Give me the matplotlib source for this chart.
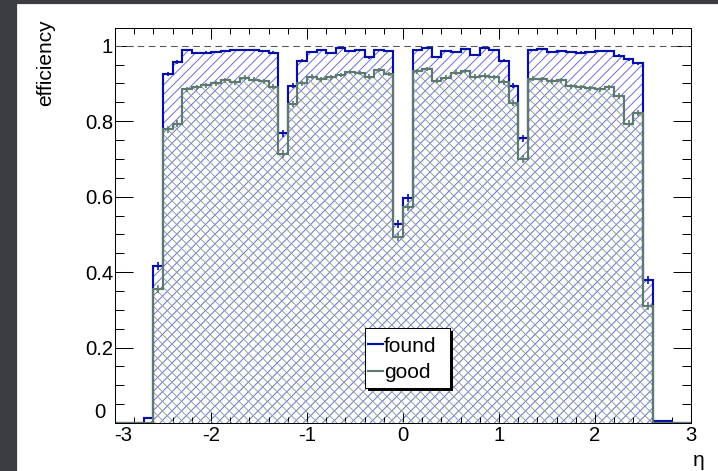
import matplotlib
matplotlib.use("Agg")
import numpy as np
import matplotlib.pyplot as plt
import matplotlib.transforms as mtrans
from matplotlib.patches import Rectangle
from matplotlib.lines import Line2D
from matplotlib.ticker import MultipleLocator, FuncFormatter

plt.rcParams["font.family"] = ["Liberation Sans", "DejaVu Sans"]
plt.rcParams["axes.unicode_minus"] = False
plt.rcParams["lines.scale_dashes"] = False
plt.rcParams["hatch.linewidth"] = 0.8

DPI = 86
W, H = 718, 471

# eta binning: 60 bins of width 0.1 between -3 and 3
eta_edges = np.linspace(-3.0, 3.0, 61)

# tracking efficiency per eta bin
found = [0.0, 0.0, 0.0, 0.012, 0.416, 0.925, 0.957, 0.988, 0.981, 0.982,
         0.984, 0.987, 0.989, 0.989, 0.988, 0.985, 0.982, 0.768, 0.894, 0.960,
         0.984, 0.990, 0.980, 0.995, 0.987, 0.990, 0.969, 0.988, 0.987, 0.527,
         0.596, 0.990, 0.994, 0.970, 0.986, 0.983, 0.991, 0.975, 0.995, 0.990,
         0.960, 0.894, 0.755, 0.988, 0.991, 0.983, 0.985, 0.983, 0.982, 0.983,
         0.985, 0.986, 0.974, 0.964, 0.953, 0.379, 0.006, 0.005, 0.0, 0.0]
good = [0.0, 0.0, 0.0, 0.0, 0.355, 0.778, 0.793, 0.884, 0.890, 0.895,
        0.901, 0.908, 0.903, 0.915, 0.910, 0.906, 0.891, 0.713, 0.845, 0.900,
        0.918, 0.911, 0.916, 0.922, 0.931, 0.928, 0.918, 0.936, 0.925, 0.493,
        0.573, 0.932, 0.939, 0.907, 0.915, 0.929, 0.934, 0.918, 0.921, 0.917,
        0.903, 0.848, 0.700, 0.913, 0.911, 0.906, 0.908, 0.892, 0.890, 0.887,
        0.884, 0.890, 0.866, 0.793, 0.821, 0.310, 0.0, 0.0, 0.0, 0.0]

# tracks per bin, used for the binomial uncertainty
n_tracks = 2000

x_ticks = [-3, -2, -1, 0, 1, 2, 3]
y_ticks = [0, 0.2, 0.4, 0.6, 0.8, 1.0]

found = np.array(found)
good = np.array(good)
centers = 0.5 * (eta_edges[:-1] + eta_edges[1:])

c_found = "#0510a8"
c_found_hatch = "#6a6ade"
c_good = "#5c7a6e"
c_good_hatch = "#8fa399"

fig = plt.figure(figsize=(W / DPI, H / DPI), dpi=DPI, facecolor="white")

def fx(px):
    return px / W

def fy(py):
    return 1 - py / H

# dark frame strips of the canvas
fig.patches.append(Rectangle((0, 0), fx(16), 1, transform=fig.transFigure,
                             color="#3b3d42", zorder=0))
fig.patches.append(Rectangle((0, fy(3)), 1, 3 / H, transform=fig.transFigure,
                             color="#3b3d42", zorder=0))

ax = fig.add_axes([fx(115), fy(423), 576 / W, 395 / H])
ax.set_xlim(-3, 3)
ax.set_ylim(0, 1.047)

# hatched fills
ax.stairs(found, eta_edges, baseline=0, fill=True, facecolor="none",
          edgecolor=c_found_hatch, linewidth=0, hatch="///", zorder=1)
ax.stairs(good, eta_edges, baseline=0, fill=True, facecolor="none",
          edgecolor=c_good_hatch, linewidth=0, hatch="\\\\\\", zorder=2)

# outlines
ax.stairs(found, eta_edges, baseline=0, fill=False, edgecolor=c_found,
          linewidth=1.8, zorder=4)
ax.stairs(good, eta_edges, baseline=0, fill=False, edgecolor=c_good,
          linewidth=1.8, zorder=5)

# binomial errors
for vals, col, z in ((found, c_found, 6), (good, c_good, 7)):
    m = vals > 0
    err = np.sqrt(vals[m] * (1 - vals[m]) / n_tracks)
    ax.errorbar(centers[m], vals[m], yerr=err, fmt="none", ecolor=col,
                elinewidth=1.4, capsize=0, zorder=z)

ax.axhline(1.0, color="#555555", linewidth=0.9, linestyle=(0, (5.5, 3.8)),
           zorder=3)

# axis styling
for s in ax.spines.values():
    s.set_linewidth(0.85)
    s.set_zorder(10)

ax.set_xticks(x_ticks)
ax.set_yticks(y_ticks)
ax.xaxis.set_minor_locator(MultipleLocator(0.2))
ax.yaxis.set_minor_locator(MultipleLocator(0.05))
fmt = FuncFormatter(lambda v, p: f"{v:g}")
ax.xaxis.set_major_formatter(fmt)
ax.yaxis.set_major_formatter(fmt)

ax.tick_params(axis="both", which="both", direction="in", top=True,
               right=True, width=0.85, labelsize=17, zorder=10)
ax.tick_params(axis="x", which="major", length=9.5, pad=2.5)
ax.tick_params(axis="x", which="minor", length=4.8)
ax.tick_params(axis="y", which="major", length=14.8, pad=1.5)
ax.tick_params(axis="y", which="minor", length=7.5)

# nudge the corner labels apart
fig.canvas.draw()
ylab0 = ax.get_yticklabels()[0]
ylab0.set_transform(ylab0.get_transform() +
                    mtrans.ScaledTranslation(-8 / DPI, 12 / DPI,
                                             fig.dpi_scale_trans))
xlab0 = ax.get_xticklabels()[0]
xlab0.set_transform(xlab0.get_transform() +
                    mtrans.ScaledTranslation(8 / DPI, 0, fig.dpi_scale_trans))

fig.text(fx(46), fy(19), "efficiency", rotation=90, ha="center", va="top",
         fontsize=17.5)
fig.text(fx(699), fy(461), "η", ha="center", va="center", fontsize=17.5)

# legend box with drop shadow
fig.patches.append(Rectangle((fx(368), fy(391)), 85 / W, 60 / H,
                             transform=fig.transFigure, facecolor="black",
                             edgecolor="none", zorder=20))
fig.patches.append(Rectangle((fx(365), fy(388)), 85 / W, 60 / H,
                             transform=fig.transFigure, facecolor="white",
                             edgecolor="black", linewidth=0.85, zorder=21))
fig.lines.append(Line2D([fx(368), fx(383)], [fy(344), fy(344)],
                        transform=fig.transFigure, color=c_found,
                        linewidth=1.8, zorder=22))
fig.lines.append(Line2D([fx(368), fx(383)], [fy(371), fy(371)],
                        transform=fig.transFigure, color=c_good,
                        linewidth=1.8, zorder=22))
fig.text(fx(384), fy(352), "found", ha="left", va="baseline", fontsize=17.5,
         zorder=23)
fig.text(fx(384), fy(378), "good", ha="left", va="baseline", fontsize=17.5,
         zorder=23)

fig.savefig("out.png", dpi=DPI, facecolor="white")
